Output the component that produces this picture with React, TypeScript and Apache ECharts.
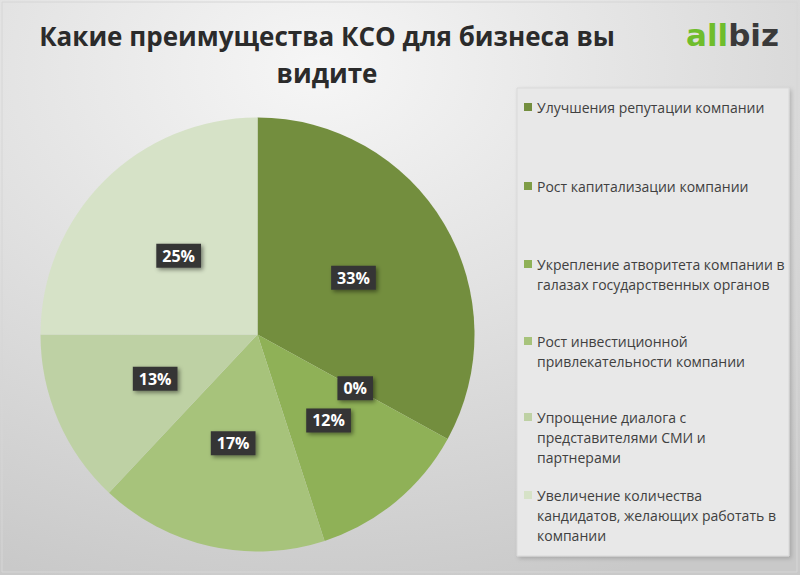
import React, { useEffect, useRef } from "react";
import * as echarts from "echarts";

const titleText = "Какие преимущества КСО для бизнеса вы\nвидите";

const categories = [
  "Улучшения репутации компании",
  "Рост капитализации компании",
  "Укрепление атворитета компании в галазах государственных органов",
  "Рост инвестиционной привлекательности компании",
  "Упрощение диалога с представителями СМИ и партнерами",
  "Увеличение количества кандидатов, желающих работать в компании",
];

const legendLines = [
  ["Улучшения репутации компании"],
  ["Рост капитализации компании"],
  ["Укрепление атворитета компании в", "галазах государственных органов"],
  ["Рост инвестиционной", "привлекательности компании"],
  ["Упрощение диалога с", "представителями СМИ и", "партнерами"],
  ["Увеличение количества", "кандидатов, желающих работать в", "компании"],
];

const values = [33, 0, 12, 17, 13, 25];

const colors = ["#738e3e", "#7f9d46", "#8fb157", "#a7c37b", "#bed1a4", "#d6e2c7"];

// first-line centre of each legend entry (layout)
const legendFirstLineY = [107, 186, 264, 341, 417, 495];

const FONT = "'Open Sans', 'Noto Sans', sans-serif";

export default function App() {
  const ref = useRef<HTMLDivElement>(null);

  useEffect(() => {
    if (!ref.current) return;
    const chart = echarts.init(ref.current, undefined, { renderer: "svg" });
    const L = 20;
    const S = 8;
    const legends = categories.map((name, i) => {
      const n = legendLines[i].length;
      const h = S + (n - 1) * L;
      // square at the top of a tall, otherwise empty icon box so that it sits on the first line
      const icon = `path://M0,0h${S}v${S}h-${S}z M0,${h}h${S}`;
      return {
        show: true,
        orient: "vertical",
        left: 524,
        top: legendFirstLineY[i] - L / 2,
        padding: 0,
        itemWidth: S,
        itemHeight: h,
        icon,
        selectedMode: false,
        data: [name],
        formatter: () => legendLines[i].join("\n"),
        textStyle: {
          fontFamily: FONT,
          fontSize: 14,
          color: "#404040",
          lineHeight: L,
        },
      };
    });

    chart.setOption({
      animation: false,
      backgroundColor: "transparent",
      color: colors,
      title: {
        text: titleText,
        left: 322,
        top: 12,
        textAlign: "center",
        textStyle: {
          fontFamily: FONT,
          fontSize: 26,
          fontWeight: "bold",
          color: "#2b2b2b",
          lineHeight: 37,
        },
      },
      graphic: [
        {
          type: "rect",
          z: -10,
          silent: true,
          shape: { x: 0, y: 0, width: 800, height: 575 },
          style: {
            fill: new echarts.graphic.RadialGradient(0.4, 0.12, 0.95, [
              { offset: 0, color: "#f6f6f6" },
              { offset: 0.45, color: "#e2e2e2" },
              { offset: 1, color: "#c9c9c9" },
            ]),
          },
        },
        {
          type: "rect",
          z: -9,
          silent: true,
          shape: { x: 2, y: 2, width: 795, height: 570 },
          style: { fill: "none", stroke: "#d6d6d6", lineWidth: 1 },
        },
        {
          type: "rect",
          z: -8,
          silent: true,
          shape: { x: 517, y: 88, width: 272, height: 468 },
          style: {
            fill: "#e8e8e8",
            stroke: "#d9d9d9",
            lineWidth: 1,
            shadowBlur: 4,
            shadowColor: "rgba(0,0,0,0.18)",
            shadowOffsetX: 2,
            shadowOffsetY: 2,
          },
        },
        {
          type: "text",
          left: 686,
          top: 19,
          silent: true,
          style: {
            text: "{a|all}{b|biz}",
            rich: {
              a: {
                fontFamily: "'DejaVu Sans', sans-serif",
                fontSize: 31,
                fontWeight: "bold",
                fill: "#6fbd2c",
              },
              b: {
                fontFamily: "'DejaVu Sans', sans-serif",
                fontSize: 31,
                fontWeight: "bold",
                fill: "#3a3a3a",
              },
            },
          },
        },
      ],
      legend: legends,
      series: [
        {
          type: "pie",
          center: [257.5, 334.5],
          radius: [0, 217],
          startAngle: 90,
          clockwise: true,
          avoidLabelOverlap: false,
          label: {
            show: true,
            position: "inside",
            formatter: "{c}%",
            fontFamily: FONT,
            fontSize: 16,
            fontWeight: "bold",
            color: "#ffffff",
            backgroundColor: "#353535",
            padding: [5, 6, 3, 6],
            shadowBlur: 4,
            shadowColor: "rgba(0,0,0,0.45)",
            shadowOffsetX: 2,
            shadowOffsetY: 2,
          },
          labelLine: { show: false },
          itemStyle: { borderWidth: 0 },
          emphasis: { disabled: true },
          data: categories.map((name, i) => ({ name, value: values[i] })),
        },
      ],
    });
    return () => chart.dispose();
  }, []);

  return (
    <div
      ref={ref}
      style={{ position: "absolute", left: 0, top: 0, width: 800, height: 575 }}
    />
  );
}
